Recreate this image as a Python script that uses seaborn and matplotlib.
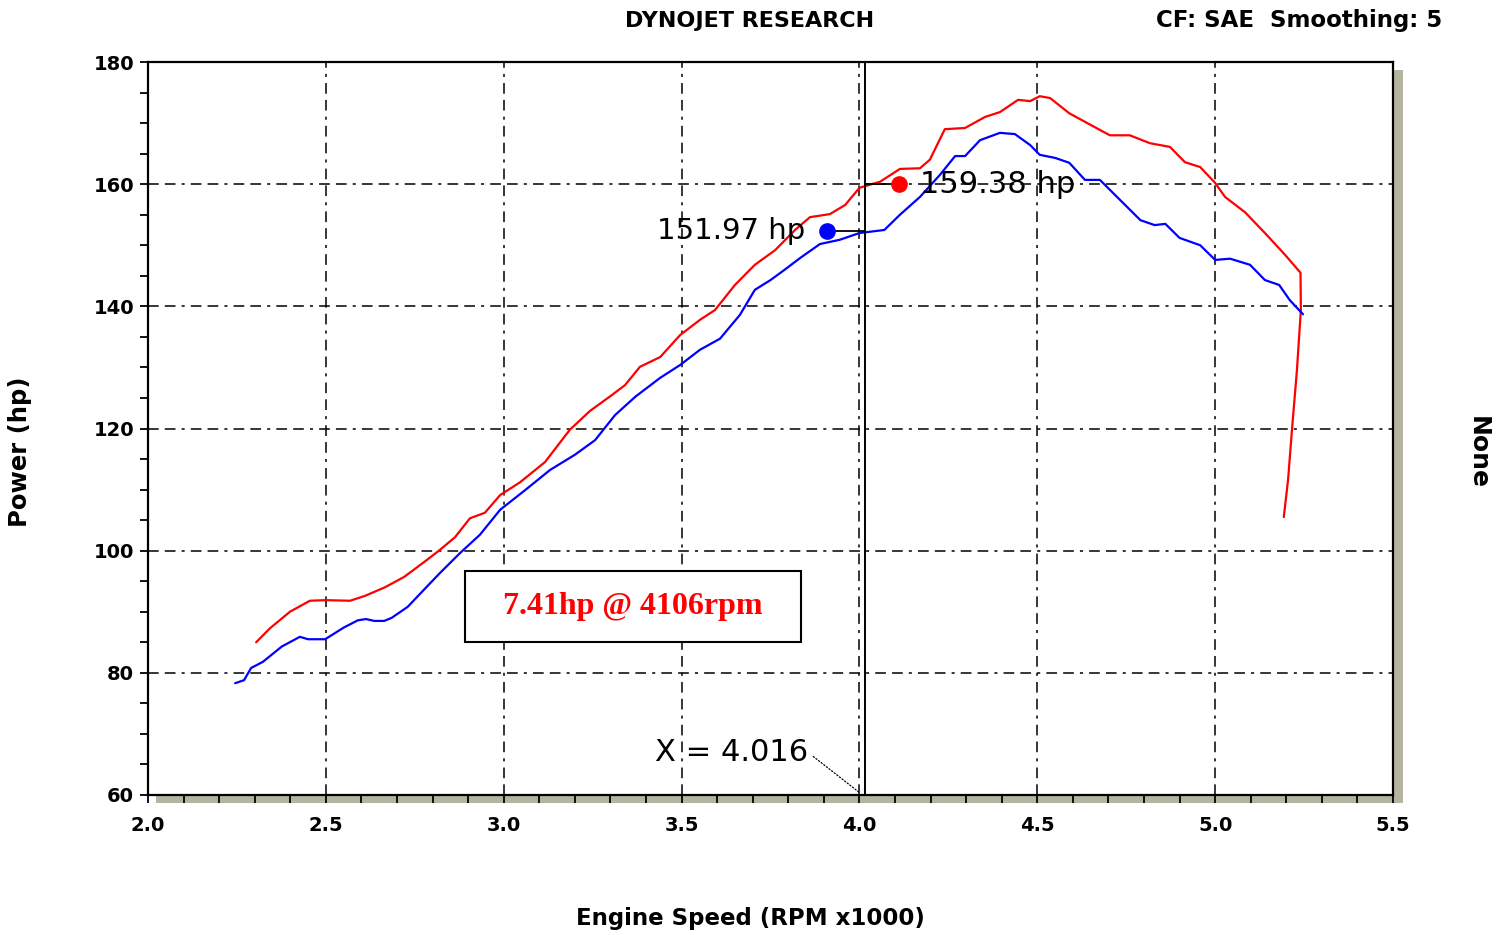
"""Dynojet dyno chart - power vs engine speed, two runs."""

import matplotlib
matplotlib.use("Agg")
import matplotlib.pyplot as plt
from matplotlib.patches import Rectangle
from matplotlib.ticker import MultipleLocator
import pandas as pd
import seaborn as sns

# ---------- data ----------
red_rpm = [2.304, 2.343, 2.399, 2.455, 2.50, 2.568, 2.61, 2.666, 2.72, 2.78,
           2.82, 2.863, 2.905, 2.947, 2.99, 3.046, 3.116, 3.186, 3.243, 3.30,
           3.341, 3.383, 3.44, 3.496, 3.552, 3.594, 3.65, 3.706, 3.763, 3.819,
           3.861, 3.917, 3.96, 4.0, 4.058, 4.114, 4.17, 4.198, 4.24, 4.297,
           4.353, 4.395, 4.446, 4.48, 4.507, 4.536, 4.59, 4.65, 4.704, 4.76,
           4.817, 4.873, 4.915, 4.958, 5.0, 5.028, 5.084, 5.14, 5.197, 5.24,
           5.241, 5.23, 5.216, 5.205, 5.193]
red_hp = [85.0, 87.3, 90.0, 91.8, 91.9, 91.8, 92.6, 94.0, 95.7, 98.3,
          100.1, 102.2, 105.3, 106.2, 109.1, 111.2, 114.5, 119.8, 122.9, 125.3,
          127.1, 130.1, 131.7, 135.3, 137.8, 139.4, 143.5, 146.8, 149.2, 152.5,
          154.6, 155.1, 156.6, 159.4, 160.4, 162.5, 162.6, 164.0, 169.0, 169.2,
          171.0, 171.8, 173.8, 173.6, 174.4, 174.1, 171.6, 169.7, 168.0, 168.0,
          166.7, 166.1, 163.6, 162.8, 160.2, 157.9, 155.4, 152.0, 148.4, 145.5,
          139.4, 129.6, 119.8, 111.6, 105.5]

blue_rpm = [2.245, 2.27, 2.29, 2.323, 2.376, 2.427, 2.45, 2.498, 2.55, 2.59,
            2.613, 2.636, 2.664, 2.685, 2.73, 2.774, 2.82, 2.877, 2.933, 2.99,
            3.06, 3.13, 3.20, 3.257, 3.313, 3.37, 3.44, 3.496, 3.552, 3.608,
            3.664, 3.706, 3.75, 3.79, 3.833, 3.889, 3.945, 4.0, 4.07, 4.114,
            4.17, 4.226, 4.269, 4.297, 4.339, 4.395, 4.437, 4.48, 4.507, 4.55,
            4.59, 4.634, 4.676, 4.733, 4.79, 4.83, 4.86, 4.90, 4.958, 5.0,
            5.042, 5.098, 5.14, 5.18, 5.21, 5.247]
blue_hp = [78.3, 78.8, 80.8, 81.8, 84.3, 85.9, 85.5, 85.5, 87.4, 88.6,
           88.8, 88.5, 88.5, 89.0, 90.8, 93.5, 96.3, 99.6, 102.6, 106.7,
           109.9, 113.2, 115.7, 118.1, 122.2, 125.2, 128.3, 130.4, 132.9, 134.7,
           138.6, 142.7, 144.3, 146.0, 147.9, 150.2, 150.9, 152.0, 152.5, 155.0,
           157.9, 161.5, 164.6, 164.6, 167.2, 168.4, 168.2, 166.4, 164.8, 164.3,
           163.5, 160.7, 160.7, 157.4, 154.1, 153.3, 153.5, 151.2, 150.0, 147.6,
           147.8, 146.8, 144.3, 143.5, 141.0, 138.7]

cursor_rpm = 4.016
red_mark = (4.11, 160.0)
blue_mark = (3.909, 152.3)
red_label = "159.38 hp"
blue_label = "151.97 hp"
gain_text = "7.41hp @ 4106rpm"

x_ticks = [2.0, 2.5, 3.0, 3.5, 4.0, 4.5, 5.0, 5.5]
y_ticks = [60, 80, 100, 120, 140, 160, 180]

df = pd.concat([
    pd.DataFrame({"rpm": red_rpm, "hp": red_hp, "run": "red"}),
    pd.DataFrame({"rpm": blue_rpm, "hp": blue_hp, "run": "blue"}),
], ignore_index=True)

# ---------- style ----------
sns.set_theme(style="white")
plt.rcParams["font.family"] = ["DejaVu Sans"]
for key in ("text.color", "axes.labelcolor", "xtick.color", "ytick.color"):
    plt.rcParams[key] = "black"

W, H = 1504, 935
fig = plt.figure(figsize=(W / 100, H / 100), dpi=100)
fig.patch.set_facecolor("white")
ax = fig.add_axes([148 / W, 1 - 795 / H, (1393 - 148) / W, (795 - 62) / H])
ax.set_facecolor("white")

# grey drop shadow behind the plot frame
shadow = Rectangle((156 / W, 1 - 803 / H), (1403 - 156) / W, (803 - 70) / H,
                   transform=fig.transFigure, facecolor="#b4b4a0",
                   edgecolor="none", zorder=-1)
fig.patches.append(shadow)

grid_ls = (0, (7, 4, 7, 4, 2, 4))
for xv in x_ticks[1:-1]:
    ax.axvline(xv, color="black", lw=1.1, ls=grid_ls, zorder=1)
for yv in y_ticks[1:-1]:
    ax.axhline(yv, color="black", lw=1.1, ls=grid_ls, zorder=1)

sns.lineplot(data=df, x="rpm", y="hp", hue="run", units="run",
             palette={"red": "#ff0000", "blue": "#0000ff"},
             estimator=None, sort=False, lw=1.6, legend=False, ax=ax, zorder=3)

# cursor line and markers
ax.axvline(cursor_rpm, color="black", lw=1.4, zorder=4)
ax.plot([cursor_rpm, red_mark[0]], [red_mark[1], red_mark[1]], color="black", lw=1.3, zorder=4)
ax.plot([blue_mark[0], cursor_rpm], [blue_mark[1], blue_mark[1]], color="black", lw=1.3, zorder=4)
ax.plot(*red_mark, "o", color="#ff0000", ms=11, zorder=5)
ax.plot(*blue_mark, "o", color="#0000ff", ms=11, zorder=5)
ax.text(red_mark[0] + 0.06, red_mark[1], red_label, fontsize=22,
        va="center", ha="left", zorder=6)
ax.text(blue_mark[0] - 0.06, blue_mark[1], blue_label, fontsize=21,
        va="center", ha="right", zorder=6)

ax.annotate(f"X = {cursor_rpm:.3f}", xy=(4.0, 60.4), xytext=(3.855, 67.0),
            fontsize=22, ha="right", va="center",
            arrowprops=dict(arrowstyle="-", color="black", lw=0.9, ls=":",
                            relpos=(1.0, 0.5), shrinkA=2, shrinkB=0))

# gain box
ax.add_patch(Rectangle(((465 - 148) / (1393 - 148), 1 - (642 - 62) / (795 - 62)),
                       (801 - 465) / (1393 - 148), (642 - 571) / (795 - 62),
                       transform=ax.transAxes, facecolor="white",
                       edgecolor="black", lw=1.5, zorder=6))
ax.text(((465 + 801) / 2 - 148) / (1393 - 148), 1 - ((571 + 642) / 2 - 62) / (795 - 62),
        gain_text, transform=ax.transAxes, ha="center", va="center",
        color="#ff0000", fontsize=23, fontweight="bold",
        family="Liberation Serif", zorder=7)

# axes, ticks
ax.set_xlim(2.0, 5.5)
ax.set_ylim(60, 180)
ax.set_xticks(x_ticks)
ax.set_yticks(y_ticks)
ax.set_xticklabels([f"{v:.1f}" for v in x_ticks])
ax.set_yticklabels([str(v) for v in y_ticks])
ax.xaxis.set_minor_locator(MultipleLocator(0.1))
ax.yaxis.set_minor_locator(MultipleLocator(5))
ax.tick_params(axis="both", which="both", direction="out", length=6, width=1.3,
               color="black", bottom=True, left=True)
ax.tick_params(axis="x", which="major", labelsize=14, pad=9)
ax.tick_params(axis="y", which="major", labelsize=14, pad=4)
for lab in ax.get_xticklabels() + ax.get_yticklabels():
    lab.set_fontweight("bold")
for sp in ax.spines.values():
    sp.set_visible(True)
    sp.set_color("black")
    sp.set_linewidth(1.6)

ax.set_xlabel("")
ax.set_ylabel("")
fig.text(750 / W, 1 - 918 / H, "Engine Speed (RPM x1000)", ha="center", va="center",
         fontsize=16.5, fontweight="bold")
fig.text(20 / W, 1 - 452 / H, "Power (hp)", ha="center", va="center",
         rotation=90, fontsize=17.5, fontweight="bold")
fig.text(1478 / W, 1 - 452 / H, "None", ha="center", va="center",
         rotation=-90, fontsize=18, fontweight="bold")
fig.text(750 / W, 1 - 21 / H, "DYNOJET RESEARCH", ha="center", va="center",
         fontsize=16, fontweight="bold")
fig.text(1442 / W, 1 - 21 / H, "CF: SAE  Smoothing: 5", ha="right", va="center",
         fontsize=16.5, fontweight="bold")

fig.savefig("out.png", dpi=100)
